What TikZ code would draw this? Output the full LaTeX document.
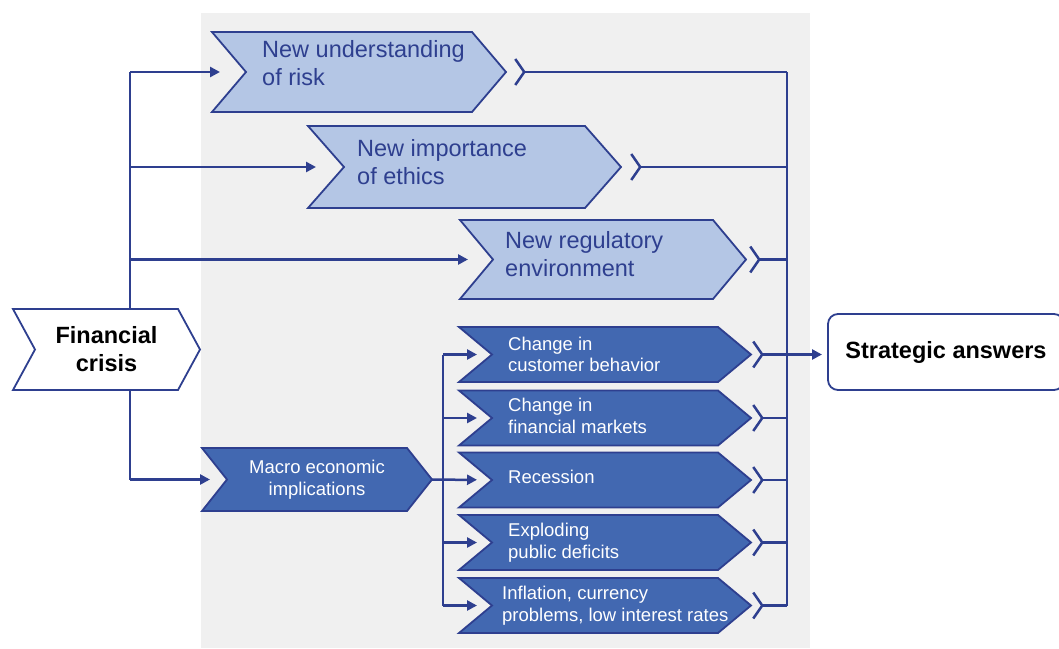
\documentclass[tikz,border=0pt]{standalone}
\usepackage{fontspec}
\setmainfont{Liberation Sans}
\usetikzlibrary{arrows.meta}
\pgfdeclarelayer{background}
\pgfsetlayers{background,main}
\definecolor{navy}{HTML}{2E3F8F}
\definecolor{paleblue}{HTML}{B4C6E5}
\definecolor{midblue}{HTML}{4268B1}
\definecolor{panelgray}{HTML}{F0F0F0}
\tikzstyle{box} = [rectangle, draw=none, inner sep=0pt, outer sep=0pt]
\tikzstyle{lightbox} = [box, minimum height=80pt]
\tikzstyle{darkbox} = [box, minimum width=292pt, minimum height=55pt]
\tikzstyle{lightfill} = [draw=navy, line width=1.8pt, fill=paleblue]
\tikzstyle{darkfill} = [draw=navy, line width=1.8pt, fill=midblue]
\tikzstyle{whitefill} = [draw=navy, line width=1.8pt, fill=white]
\tikzstyle{lighttext} = [anchor=west, inner sep=0pt, align=left, text=navy, font=\fontsize{23.5}{28}\selectfont, yshift=5pt]
\tikzstyle{darktext} = [anchor=west, inner sep=0pt, align=left, text=white, font=\fontsize{18.5}{21.5}\selectfont, xshift=49pt]
\tikzstyle{boldtext} = [align=center, font=\bfseries\fontsize{23.5}{28}\selectfont]
\tikzstyle{line} = [draw, navy, line width=2.5pt]
\tikzstyle{arrow} = [line, -{Triangle[length=10pt,width=10pt]}, shorten >=-8pt]
\tikzstyle{merge} = [line, {Straight Barb[reversed,length=9pt,width=26pt]}-]
% outline of an arrow-like step, drawn on the box of a node
\newcommand{\chevron}[3]{%
  \path[#1] (#2.north west) -- ([xshift=-#3pt]#2.north east) -- (#2.east)
    -- ([xshift=-#3pt]#2.south east) -- (#2.south west) -- ([xshift=#3pt]#2.west) -- cycle;}

\begin{document}
\begin{tikzpicture}[x=1pt,y=-1pt]
  \useasboundingbox (0,0) rectangle (1059,648);

  \node[box, boldtext, minimum width=187pt, minimum height=81pt] (crisis) at (106.5,349.5) {Financial\\crisis};

  \node[lightbox, minimum width=294pt, label={[lighttext,xshift=50pt,yshift=4pt]west:New understanding\\of risk}] (risk) at (359,72) {};
  \node[lightbox, minimum width=313pt, minimum height=82pt, label={[lighttext,xshift=49pt]west:New importance\\of ethics}] (ethics) at (464.5,167) {};
  \node[lightbox, minimum width=286pt, minimum height=79pt, label={[lighttext,xshift=45pt]west:New regulatory\\environment}] (regul) at (603,259.5) {};

  \node[box, align=center, text=white, font=\fontsize{18.5}{21.5}\selectfont, minimum width=230pt, minimum height=63pt] (macro) at (317,479.5) {Macro economic\\implications};

  \node[darkbox, label={[darktext]west:Change in\\customer behavior}] (cust) at (605,354.5) {};
  \node[darkbox, label={[darktext,yshift=2pt]west:Change in\\financial markets}] (fin) at (605,418) {};
  \node[darkbox, label={[darktext,yshift=3pt]west:Recession}] (rec) at (605,480) {};
  \node[darkbox, label={[darktext]west:Exploding\\public deficits}] (debt) at (605,542.5) {};
  \node[darkbox, label={[darktext,xshift=-6pt]west:Inflation, currency\\problems, low interest rates}] (infl) at (605,605.5) {};

  \node[box, boldtext, draw=navy, line width=1.8pt, rounded corners=10pt, fill=white, minimum width=236pt, minimum height=76pt] (answers) at (946,352) {Strategic answers};

  \begin{pgfonlayer}{background}
    \fill[panelgray] (201,13) rectangle (810,648);
    \chevron{whitefill}{crisis}{22}
    \foreach \n/\dep in {risk/34,ethics/36,regul/33} {\chevron{lightfill}{\n}{\dep}}
    \chevron{darkfill}{macro}{25}
    \foreach \n in {cust,fin,rec,debt,infl} {\chevron{darkfill}{\n}{33}}
  \end{pgfonlayer}

  \coordinate (lbus) at (130,72);
  \coordinate (dbus) at (443,480);
  \coordinate (rbus) at (787,72);

  % crisis fans out to the four drivers
  \draw[line] (lbus |- crisis.north) -- (lbus);
  \draw[line] (lbus |- crisis.south) -- (lbus |- macro);
  \draw[arrow] (lbus) -- (risk);
  \draw[arrow] (lbus |- ethics) -- (ethics);
  \draw[arrow] (lbus |- regul) -- (regul);
  \draw[arrow] (lbus |- macro) -- (macro);

  % macro economic effects
  \draw[line] (dbus |- cust) -- (dbus |- infl);
  \draw[arrow, shorten >=-18pt] (macro) -- (rec);
  \foreach \n in {cust,fin,debt,infl} \draw[arrow, shorten >=-18pt] (dbus |- \n) -- (\n);

  % everything merges into the answers
  \draw[line] (rbus) -- (rbus |- infl);
  \foreach \n/\g in {risk/8,ethics/9,regul/3,cust/1,fin/1,rec/1,debt/1,infl/1}
    \draw[merge, shorten <=\g pt] (\n.east) -- (rbus |- \n);
  \draw[arrow, shorten >=6pt] (rbus |- cust) -- (answers.west |- cust);

\end{tikzpicture}
\end{document}
